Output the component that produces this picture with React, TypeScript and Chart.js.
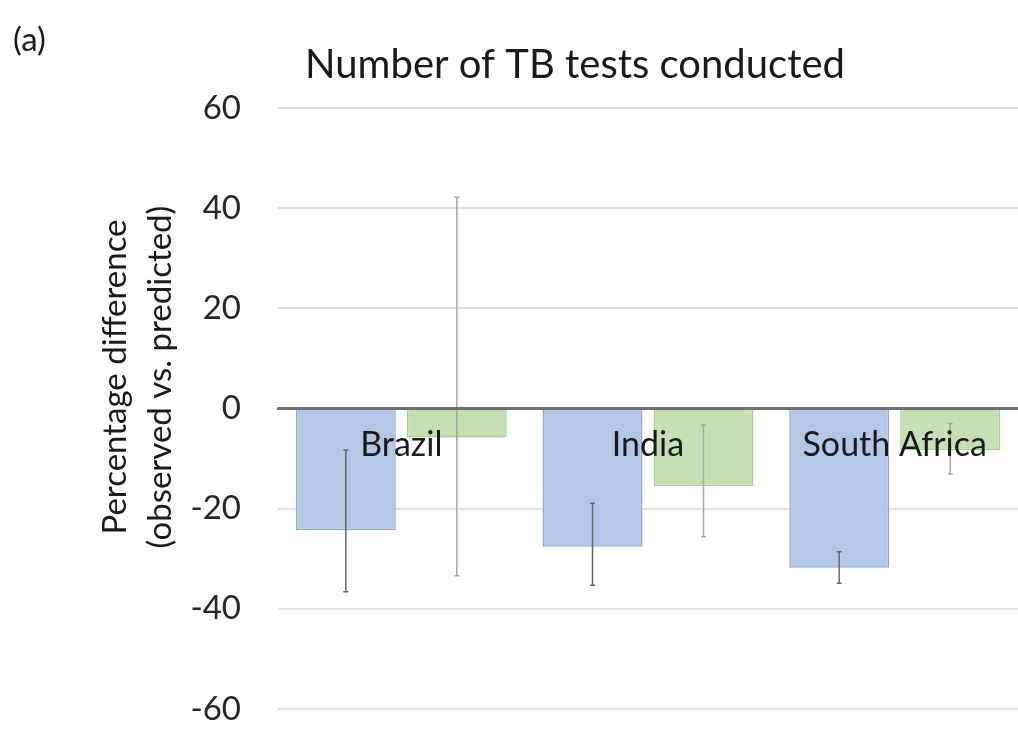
import React, { useEffect, useRef } from 'react';
import { Chart, registerables } from 'chart.js';

Chart.register(...registerables);

// ---- data ----
const categories = ['Brazil', 'India', 'South Africa'];
const seriesBlue = [-24.3, -27.6, -31.8];
const seriesGreen = [-5.8, -15.5, -8.3];
const blueErrLow = [-36.6, -35.3, -34.9];
const blueErrHigh = [-8.3, -18.9, -28.6];
const greenErrLow = [-33.4, -25.6, -13.1];
const greenErrHigh = [42.2, -3.3, -3.0];
const yMin = -60;
const yMax = 60;
const yStep = 20;

const chartTitle = 'Number of TB tests conducted';
const panelLabel = '(a)';
const yTitleLines = ['Percentage difference', '(observed vs. predicted)'];

const FONT = 'Lato, "Open Sans", sans-serif';

const errorBarsPlugin = {
  id: 'errorBars',
  afterDatasetsDraw(chart: any) {
    const { ctx } = chart;
    const yScale = chart.scales.y;
    chart.data.datasets.forEach((ds: any, i: number) => {
      const meta = chart.getDatasetMeta(i);
      if (meta.hidden) return;
      meta.data.forEach((bar: any, j: number) => {
        const lo = yScale.getPixelForValue(ds.errLow[j]);
        const hi = yScale.getPixelForValue(ds.errHigh[j]);
        const x = bar.x;
        ctx.save();
        ctx.strokeStyle = ds.errColor;
        ctx.lineWidth = 1.5;
        ctx.beginPath();
        ctx.moveTo(x, lo);
        ctx.lineTo(x, hi);
        ctx.moveTo(x - 2.5, lo);
        ctx.lineTo(x + 2.5, lo);
        ctx.moveTo(x - 2.5, hi);
        ctx.lineTo(x + 2.5, hi);
        ctx.stroke();
        ctx.restore();
      });
    });
  },
};

const textPlugin = {
  id: 'extraText',
  afterDraw(chart: any) {
    const { ctx } = chart;
    ctx.save();
    ctx.fillStyle = '#1a1a1a';
    // panel label
    ctx.font = `33px ${FONT}`;
    ctx.textAlign = 'left';
    ctx.textBaseline = 'middle';
    ctx.fillText(panelLabel, 13, 40);
    // title
    ctx.font = `40px ${FONT}`;
    ctx.textAlign = 'center';
    ctx.fillText(chartTitle, 575, 65);
    // y axis title
    ctx.font = `33px ${FONT}`;
    ctx.translate(0, 377);
    ctx.rotate(-Math.PI / 2);
    ctx.fillText(yTitleLines[0], 0, 115);
    ctx.fillText(yTitleLines[1], 0, 160);
    ctx.restore();
  },
};

export default function App() {
  const canvasRef = useRef<HTMLCanvasElement | null>(null);

  useEffect(() => {
    if (!canvasRef.current) return;
    const chart = new Chart(canvasRef.current, {
      type: 'bar',
      data: {
        labels: categories,
        datasets: [
          {
            label: 'Series 1',
            data: seriesBlue,
            backgroundColor: '#b4c7e7',
            borderColor: '#8ea9db',
            borderWidth: 1.5,
            errLow: blueErrLow,
            errHigh: blueErrHigh,
            errColor: '#666666',
          } as any,
          {
            label: 'Series 2',
            data: seriesGreen,
            backgroundColor: '#c5e0b4',
            borderColor: '#a9d18e',
            borderWidth: 1.5,
            errLow: greenErrLow,
            errHigh: greenErrHigh,
            errColor: '#a6a6a6',
          } as any,
        ],
      },
      options: {
        responsive: false,
        animation: false,
        layout: { padding: { top: 108, bottom: 32, left: 0, right: 0 } },
        datasets: {
          bar: { categoryPercentage: 0.9, barPercentage: 0.9 },
        },
        plugins: {
          legend: { display: false },
          title: { display: false },
          tooltip: { enabled: false },
        },
        scales: {
          x: {
            position: { y: 0 } as any,
            afterFit(scale: any) {
              scale.paddingTop = 0;
              scale.paddingBottom = 0;
              scale.paddingLeft = 0;
              scale.paddingRight = 0;
            },
            grid: { display: false, drawTicks: false },
            border: { display: true, color: '#6f6f6f', width: 3, z: 2 },
            ticks: {
              z: 2,
              padding: 16,
              color: '#1a1a1a',
              font: { family: FONT, size: 34 },
            },
          },
          y: {
            min: yMin,
            max: yMax,
            afterFit(scale: any) {
              scale.width = 278;
              scale.paddingTop = 0;
              scale.paddingBottom = 0;
            },
            grid: {
              drawTicks: false,
              color: (c: any) => (c.tick && c.tick.value === 0 ? '#6f6f6f' : '#e2e2e2'),
              lineWidth: 2,
            },
            border: { display: false },
            ticks: {
              stepSize: yStep,
              padding: 37,
              color: '#262626',
              font: { family: FONT, size: 33 },
            },
          },
        },
      } as any,
      plugins: [errorBarsPlugin, textPlugin],
    });
    return () => chart.destroy();
  }, []);

  return (
    <div style={{ position: 'absolute', left: 0, top: 0, width: 1018, height: 741, background: '#fff' }}>
      <canvas ref={canvasRef} width={1018} height={741} />
    </div>
  );
}
